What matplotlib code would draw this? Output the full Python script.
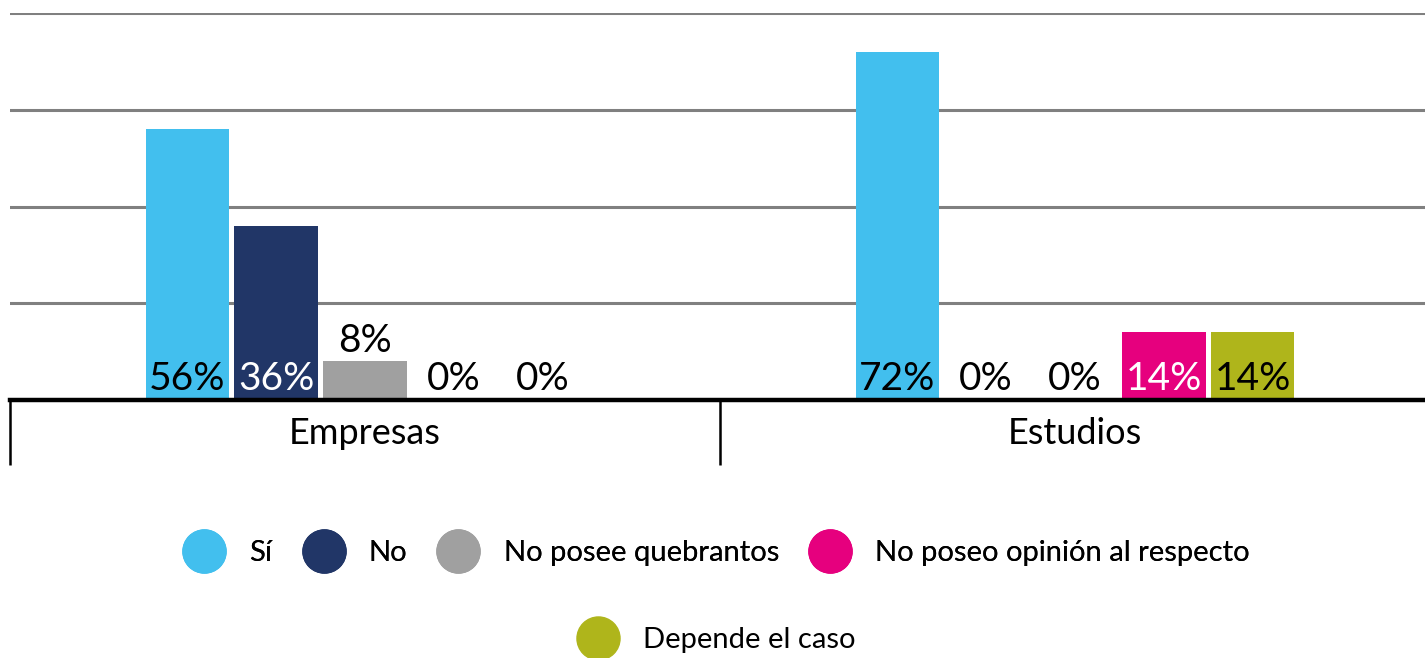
import numpy as np
import matplotlib
matplotlib.use("Agg")
import matplotlib.pyplot as plt
from matplotlib.lines import Line2D

plt.rcParams['font.family'] = ['Lato', 'DejaVu Sans']

groups = ["Empresas", "Estudios"]
series = ["Sí", "No", "No posee quebrantos", "No poseo opinión al respecto", "Depende el caso"]
values = {
    "Sí": [56, 72],
    "No": [36, 0],
    "No posee quebrantos": [8, 0],
    "No poseo opinión al respecto": [0, 14],
    "Depende el caso": [0, 14],
}
colors = ["#42BFEE", "#213667", "#A0A0A0", "#E6007E", "#AFB51B"]
label_colors = ["black", "white", "black", "white", "black"]

fig = plt.figure(figsize=(14.25, 6.58), dpi=100)
ax = fig.add_axes([10 / 1425, 258 / 658, 1420 / 1425, 387 / 658])

x = np.arange(len(groups))
slot = 0.125
width = 0.118
for i, name in enumerate(series):
    xs = x + (i - 2) * slot
    vals = values[name]
    ax.bar(xs, vals, width, color=colors[i], zorder=3)
    for xi, v in zip(xs, vals):
        if v >= 10:
            ax.annotate(f"{v}%", (xi, 0), xytext=(0, 7), textcoords="offset points",
                        ha="center", va="baseline", fontsize=28, color=label_colors[i], zorder=4)
        else:
            ax.annotate(f"{v}%", (xi, v), xytext=(0, 7), textcoords="offset points",
                        ha="center", va="baseline", fontsize=28, color="black", zorder=4)

ax.set_xlim(-0.5, 1.5)
ax.set_ylim(0, 80)
ax.set_yticks([20, 40, 60, 80])
ax.yaxis.grid(True, color="#808080", linewidth=2.2)
ax.set_axisbelow(True)
ax.tick_params(axis="y", length=0, labelleft=False)
ax.set_xticks(x)
ax.set_xticklabels(groups, fontsize=26)
ax.tick_params(axis="x", length=0, pad=12)
for s in ax.spines.values():
    s.set_visible(False)
ax.axhline(0, color="black", linewidth=3.2, zorder=5, clip_on=False)
ax.vlines([-0.5, 0.5, 1.5], -13.5, 0, color="black", linewidth=1.8, clip_on=False)

handles = [Line2D([], [], marker="o", linestyle="", markersize=31, color=c) for c in colors]
leg1 = fig.legend(handles[:4], series[:4], loc="center", bbox_to_anchor=(0.5, 1 - 553 / 658),
                  ncol=4, frameon=False, fontsize=21, handletextpad=0.55, columnspacing=0.75)
fig.add_artist(leg1)
fig.legend(handles[4:], series[4:], loc="center", bbox_to_anchor=(0.5, 1 - 640 / 658),
           ncol=1, frameon=False, fontsize=21, handletextpad=0.55)

fig.savefig("out.png", dpi=100)
